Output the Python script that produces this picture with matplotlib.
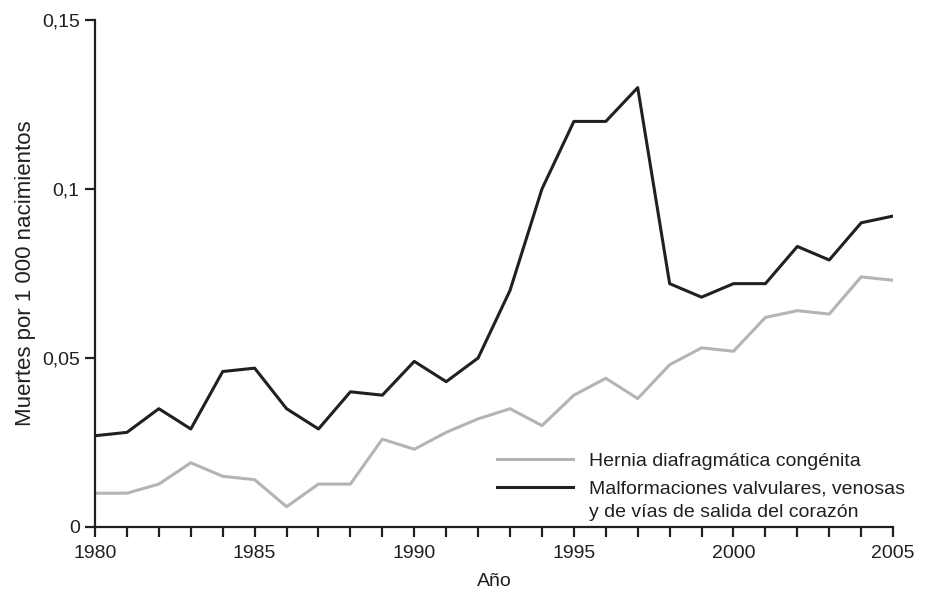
import numpy as np
import matplotlib.pyplot as plt
from matplotlib.legend_handler import HandlerLine2D

plt.rcParams['font.family'] = ['Liberation Sans', 'DejaVu Sans']

years = np.arange(1980, 2006)
malformaciones = [0.027, 0.028, 0.035, 0.029, 0.046, 0.047, 0.035, 0.029, 0.040, 0.039,
                  0.049, 0.043, 0.050, 0.070, 0.100, 0.120, 0.120, 0.130, 0.072, 0.068,
                  0.072, 0.072, 0.083, 0.079, 0.090, 0.092]
hernia = [0.010, 0.010, 0.0127, 0.019, 0.015, 0.014, 0.006, 0.0127, 0.0127, 0.026,
          0.023, 0.028, 0.032, 0.035, 0.030, 0.039, 0.044, 0.038, 0.048, 0.053,
          0.052, 0.062, 0.064, 0.063, 0.074, 0.073]
yticks = [0, 0.05, 0.1, 0.15]
ylabels = ['0', '0,05', '0,1', '0,15']

INK = '#231f20'


class TopLineHandler(HandlerLine2D):
    # put the legend line next to the first text line, not in the middle
    def create_artists(self, legend, orig_handle, xdescent, ydescent,
                       width, height, fontsize, trans):
        arts = super().create_artists(legend, orig_handle, xdescent, ydescent,
                                      width, height, fontsize, trans)
        for a in arts:
            a.set_ydata(np.asarray(a.get_ydata()) + 0.7 * fontsize)
        return arts


fig = plt.figure(figsize=(9.28, 5.94), dpi=100)
ax = fig.add_axes([0.1024, 0.1128, 0.86, 0.8535])

l1, = ax.plot(years, hernia, color='#b4b4b6', lw=2.2, label='Hernia diafragmática congénita')
l2, = ax.plot(years, malformaciones, color=INK, lw=2.2,
              label='Malformaciones valvulares, venosas\ny de vías de salida del corazón')

ax.set_xlim(1980, 2005)
ax.set_ylim(0, 0.15)
ax.set_xticks(years)
ax.set_xticklabels([str(y) if y % 5 == 0 else '' for y in years])
ax.set_yticks(yticks)
ax.set_yticklabels(ylabels)
for s in ['top', 'right']:
    ax.spines[s].set_visible(False)
for s in ['left', 'bottom']:
    ax.spines[s].set_color(INK)
    ax.spines[s].set_linewidth(1.6)
ax.tick_params(axis='both', direction='out', length=7, width=1.6, color=INK,
               labelsize=14, labelcolor=INK)
ax.tick_params(axis='x', pad=6)
ax.tick_params(axis='y', pad=4)
ax.set_xlabel('Año', fontsize=14, color=INK, labelpad=8)
ax.set_ylabel('Muertes por 1 000 nacimientos', fontsize=16, color=INK, labelpad=4)

leg = ax.legend(handles=[l1, l2], loc='upper left', bbox_to_anchor=(0.504, 0.147),
                frameon=False, fontsize=14, borderpad=0, borderaxespad=0,
                handlelength=3.9, handletextpad=0.8, labelspacing=0.55,
                labelcolor=INK, handler_map={l2: TopLineHandler()})
for t in leg.get_texts():
    t.set_linespacing(1.45)

fig.savefig('out.png', dpi=100)
